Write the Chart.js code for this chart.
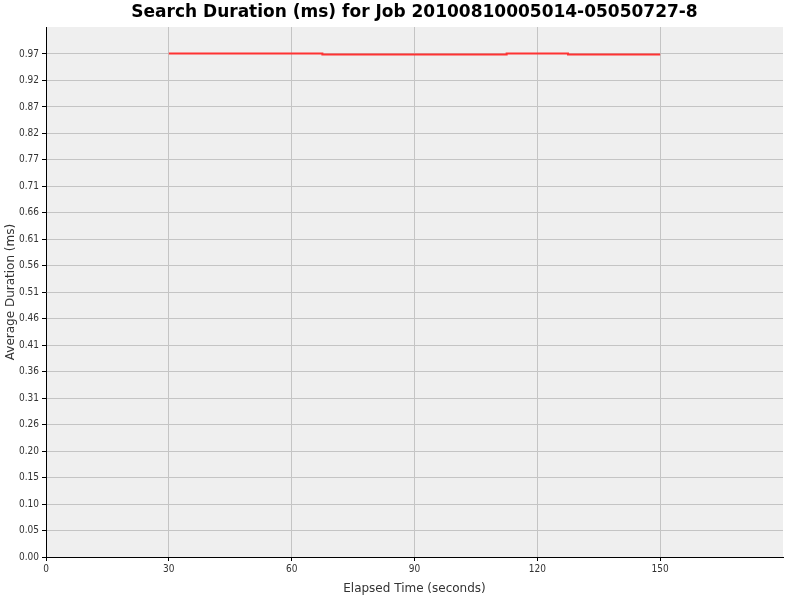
<!DOCTYPE html>
<html>
<head>
<meta charset="utf-8">
<script src="https://cdn.jsdelivr.net/npm/chart.js@4/dist/chart.umd.min.js"></script>
<style>
  html, body { margin: 0; padding: 0; background: #fff; }
  #wrap { width: 800px; height: 600px; }
</style>
</head>
<body>
<div id="wrap"><canvas id="durationCanvas" width="800" height="600"></canvas></div>
<script>
// data
var chartTitle = 'Search Duration (ms) for Job 20100810005014-05050727-8';
var elapsed = [30, 45, 60, 75, 90, 105, 120, 135, 150];
var avgDuration = [0.971, 0.971, 0.971, 0.969, 0.969, 0.969, 0.971, 0.969, 0.969];
var xTickValues = [0, 30, 60, 90, 120, 150];
var yTickLabels = ['0.00', '0.05', '0.10', '0.15', '0.20', '0.26', '0.31', '0.36', '0.41', '0.46',
  '0.51', '0.56', '0.61', '0.66', '0.71', '0.77', '0.82', '0.87', '0.92', '0.97'];
var yTickStep = 0.05105;
var yMax = 1.022;
var xMax = 180;

var tickFont = { family: "'DejaVu Sans Condensed', 'DejaVu Sans', sans-serif", size: 10 };
var labelFont = { family: "'DejaVu Sans', sans-serif", size: 12 };

// grey plot background + title centred over the plot area
var plotDecor = {
  id: 'plotDecor',
  beforeDraw: function(chart) {
    var ctx = chart.ctx, a = chart.chartArea;
    ctx.save();
    ctx.fillStyle = '#ffffff';
    ctx.fillRect(0, 0, chart.width, chart.height);
    ctx.fillStyle = '#efefef';
    ctx.fillRect(a.left, a.top, a.right - a.left, a.bottom - a.top);
    ctx.restore();
  },
  afterDraw: function(chart) {
    var ctx = chart.ctx, a = chart.chartArea;
    ctx.save();
    ctx.font = "bold 17px 'DejaVu Sans', sans-serif";
    ctx.fillStyle = '#000';
    ctx.textAlign = 'center';
    ctx.textBaseline = 'middle';
    ctx.fillText(chartTitle, (a.left + a.right) / 2, 13);
    ctx.restore();
  }
};

var points = elapsed.map(function(t, i) { return { x: t, y: avgDuration[i] }; });

var ctx = document.getElementById('durationCanvas');
var chart = new Chart(ctx, {
  type: 'line',
  data: {
    datasets: [{
      label: 'Average Duration',
      data: points,
      fill: false,
      borderColor: '#ff3333',
      borderWidth: 2,
      stepped: 'middle',
      pointRadius: 0
    }]
  },
  options: {
    responsive: false,
    animation: false,
    layout: { padding: { top: 27, right: 17, left: 0, bottom: 0 } },
    plugins: {
      legend: { display: false },
      title: { display: false },
      tooltip: { enabled: false }
    },
    scales: {
      x: {
        type: 'linear',
        min: 0,
        max: xMax,
        afterBuildTicks: function(scale) {
          scale.ticks = xTickValues.map(function(v) { return { value: v }; });
        },
        afterFit: function(scale) { scale.height = 43; },
        ticks: {
          color: '#333',
          font: tickFont,
          padding: 2,
          maxRotation: 0,
          callback: function(v) { return String(v); }
        },
        grid: { color: '#c4c4c4', lineWidth: 1, tickColor: '#000', tickLength: 4 },
        border: { display: true, color: '#000', width: 1 },
        title: { display: true, text: 'Elapsed Time (seconds)', color: '#333', font: labelFont, padding: { top: 4, bottom: 4 } }
      },
      y: {
        type: 'linear',
        min: 0,
        max: yMax,
        afterBuildTicks: function(scale) {
          scale.ticks = yTickLabels.map(function(l, i) { return { value: i * yTickStep }; });
        },
        afterFit: function(scale) { scale.width = 46; },
        ticks: {
          color: '#333',
          font: tickFont,
          padding: 3,
          callback: function(v, i) { return yTickLabels[i]; }
        },
        grid: { color: '#c4c4c4', lineWidth: 1, tickColor: '#000', tickLength: 4 },
        border: { display: true, color: '#000', width: 1 },
        title: { display: true, text: 'Average Duration (ms)', color: '#333', font: labelFont, padding: { top: 4, bottom: 2 } }
      }
    }
  },
  plugins: [plotDecor]
});
</script>
</body>
</html>
